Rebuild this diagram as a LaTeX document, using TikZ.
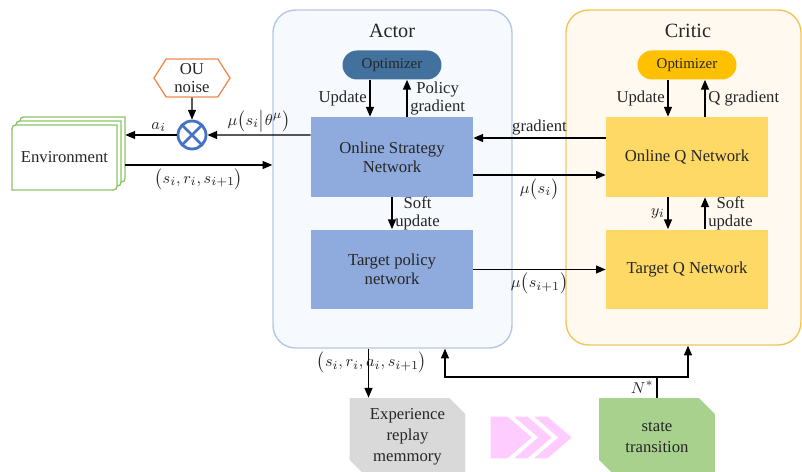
\documentclass[tikz,border=0pt]{standalone}
\usepackage{fontspec}
\setmainfont{Liberation Serif}
\usetikzlibrary{arrows.meta,shapes.misc,shapes.symbols}

\definecolor{actorline}{HTML}{B4C7E7}
\definecolor{actorfill}{HTML}{F6F9FD}
\definecolor{criticline}{HTML}{F2C55C}
\definecolor{criticfill}{HTML}{FFF9EF}
\definecolor{actoropt}{HTML}{41719C}
\definecolor{criticopt}{HTML}{FFC000}
\definecolor{actornet}{HTML}{8FAADC}
\definecolor{criticnet}{HTML}{FFD966}
\definecolor{envgreen}{HTML}{8CC46A}
\definecolor{ouorange}{HTML}{EE8A4E}
\definecolor{mixblue}{HTML}{4472C4}
\definecolor{memgray}{HTML}{D9D9D9}
\definecolor{transgreen}{HTML}{A9D18E}
\definecolor{chevpink}{HTML}{FFCCFF}
\definecolor{txtdark}{HTML}{262626}

\tikzset{
  arr/.style={-{Triangle[length=5.5pt,width=4.5pt]}, line width=0.75pt},
  panel/.style={rounded corners=0.45cm, line width=0.8pt},
  title/.style={font=\fontsize{11.5}{13}\selectfont, text=txtdark},
  optbox/.style={rounded corners=0.29cm, minimum width=1.98cm, minimum height=0.58cm, inner sep=0pt, font=\fontsize{8.5}{9}\selectfont, text=txtdark},
  netbox/.style={minimum width=3.24cm, minimum height=1.6cm, inner sep=0pt, align=center, font=\fontsize{9.5}{11}\selectfont, text=txtdark},
  lbl/.style={font=\fontsize{9.5}{10.5}\selectfont, align=left, inner sep=1.5pt, text=txtdark},
  sheet/.style={draw=envgreen, fill=white, line width=0.75pt},
  mix/.style={circle, draw=mixblue, fill=white, line width=1.6pt, minimum size=0.56cm, inner sep=0pt,
    path picture={\draw[mixblue, line width=1.6pt] (path picture bounding box.north west) -- (path picture bounding box.south east)
      (path picture bounding box.south west) -- (path picture bounding box.north east);}},
  ounode/.style={signal, signal to=west and east, signal pointer angle=115, draw=ouorange, fill=white, line width=0.75pt,
    minimum width=1.52cm, minimum height=0.76cm, inner sep=0pt, align=center, font=\fontsize{9.5}{10.5}\selectfont, text=txtdark},
  bottombox/.style={chamfered rectangle, chamfered rectangle corners={north east,south west}, chamfered rectangle xsep=0.16cm,
    chamfered rectangle ysep=0.16cm, minimum width=2.32cm, minimum height=1.56cm, inner sep=0pt, align=center,
    font=\fontsize{9.5}{12}\selectfont, text=txtdark},
  chev/.style={fill=chevpink, draw=white, line width=0.8pt, line join=miter}
}

\begin{document}
\begin{tikzpicture}[x=0.02cm,y=-0.02cm]
\useasboundingbox (0,0) rectangle (802,472);
\clip (0,0) rectangle (802,472);

% actor and critic panels
\node[panel, draw=actorline, fill=actorfill, minimum width=4.78cm, minimum height=6.76cm] (actor) at (392.5,179) {};
\node[panel, draw=criticline, fill=criticfill, minimum width=4.7cm, minimum height=6.7cm] (critic) at (683.5,177.5) {};
\node[title] (actortitle) at (392,31) {Actor};
\node[title] (critictitle) at (688,31) {Critic};

\node[optbox, fill=actoropt] (aopt) at (392,65) {Optimizer};
\node[optbox, fill=criticopt] (copt) at (687,65) {Optimizer};

\node[netbox, fill=actornet] (osn) at (392,157) {Online Strategy\\Network};
\node[netbox, fill=actornet] (tpn) at (392,269.5) {Target policy\\network};
\node[netbox, fill=criticnet] (oqn) at (687,157) {Online Q Network};
\node[netbox, fill=criticnet] (tqn) at (687,269.5) {Target Q Network};

% inside actor
\draw[arr] ([xshift=-0.44cm]aopt.south) -- ([xshift=-0.44cm]osn.north) node[lbl, midway, left] {Update};
\draw[arr] ([xshift=0.3cm]osn.north) -- ([xshift=0.3cm]aopt.south) node[lbl, midway, right, align=center] {Policy\\gradient};
\draw[arr] (osn) -- (tpn) node[lbl, midway, right, align=center] {Soft\\update};

% inside critic
\draw[arr] ([xshift=-0.38cm]copt.south) -- ([xshift=-0.38cm]oqn.north) node[lbl, midway, left] {Update};
\draw[arr] ([xshift=0.36cm]oqn.north) -- ([xshift=0.36cm]copt.south) node[lbl, midway, right] {Q gradient};
\draw[arr] ([xshift=-0.38cm]oqn.south) -- ([xshift=-0.38cm]tqn.north) node[lbl, midway, left] {$y_i$};
\draw[arr] ([xshift=0.36cm]tqn.north) -- ([xshift=0.36cm]oqn.south) node[lbl, midway, right, align=center] {Soft\\update};

% between actor and critic
\draw[arr] ([yshift=0.38cm]oqn.west) -- ([yshift=0.38cm]osn.east) node[lbl, midway, above] {gradient};
\draw[arr] ([yshift=-0.36cm]osn.east) -- ([yshift=-0.36cm]oqn.west) node[lbl, midway, below] {$\mu\bigl(s_i\bigr)$};
\draw[arr] (tpn.east) -- (tqn.west) node[lbl, midway, below] {$\mu\bigl(s_{i+1}\bigr)$};

% environment
\foreach \d in {8,4,0}
  \draw[sheet] ({12+\d},{190-\d}) -- ({12+\d},{133-\d}) .. controls ({12+\d},{125-\d}) .. ({20+\d},{125-\d})
    -- ({117+\d},{125-\d}) -- ({117+\d},{182-\d}) .. controls ({117+\d},{190-\d}) .. ({109+\d},{190-\d}) -- cycle;
\node[minimum width=2.1cm, minimum height=1.3cm, inner sep=0pt, font=\fontsize{9.5}{11}\selectfont, text=txtdark] (env) at (64.5,157.5) {Environment};

\node[ounode] (ou) at (192,78) {OU\\noise};
\node[mix] (mix) at (192,135) {};
\draw[arr] (ou) -- (mix);
\draw[arr] ([yshift=0.44cm]osn.west) -- (mix) node[lbl, midway, above] {$\mu\bigl(s_i\big|\theta^\mu\bigr)$};
\draw[arr] (mix) -- ([xshift=0.16cm]env.east |- mix) node[lbl, pos=0.35, above] {$a_i$};
\draw[arr] ([xshift=0.16cm,yshift=-0.15cm]env.east) -- ([yshift=-0.15cm]env.east -| actor.west)
  node[lbl, midway, below] {$\bigl(s_i,r_i,s_{i+1}\bigr)$};

% bottom row
\node[bottombox, fill=memgray] (exp) at (407.5,437) {Experience\\replay\\memmory};
\node[bottombox, fill=transgreen] (stt) at (657,437) {state\\transition};

\draw[chev] (490,416) -- (508,416) -- (533,437.5) -- (508,459) -- (490,459) -- cycle;
\foreach \b in {512,532}
  \draw[chev] (\b,416) -- ({\b+16},416) -- ({\b+41},437.5) -- ({\b+16},459) -- (\b,459) -- ({\b+25},437.5) -- cycle;

\draw[arr] ([xshift=-0.48cm]actor.south) -- ([xshift=-0.48cm]actor.south |- exp.north)
  node[lbl, pos=0.28, xshift=0.07cm] {$\bigl(s_i,r_i,a_i,s_{i+1}\bigr)$};

\coordinate (split) at (657,377);
\draw[line width=0.75pt] (stt.north) -- (split) node[lbl, midway, left] {$N^*$};
\draw[arr] (split) -| ([xshift=1.05cm]actor.south);
\draw[arr] (split) -| ([xshift=0.09cm]critic.south);
\end{tikzpicture}
\end{document}
